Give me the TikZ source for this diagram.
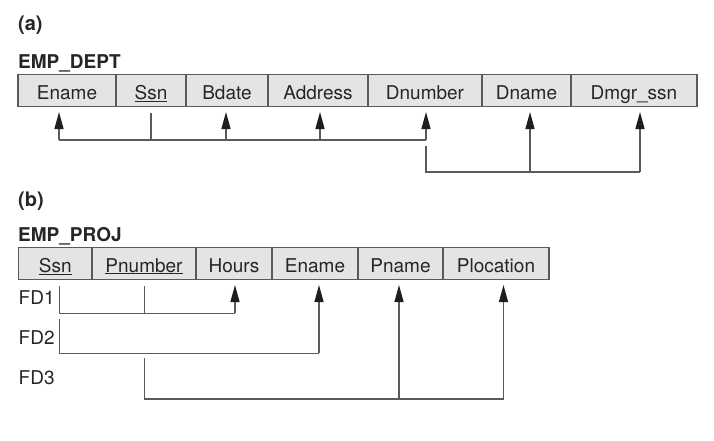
\documentclass[tikz,border=0pt]{standalone}
\usepackage{fontspec}
\setmainfont{TeX Gyre Heros}
\usetikzlibrary{arrows.meta}
\definecolor{cellfill}{HTML}{E4E4E4}
\definecolor{edge}{HTML}{5A5A5A}
\definecolor{ink}{HTML}{262626}
\definecolor{tipcol}{HTML}{1E1E1E}
\begin{document}
\begin{tikzpicture}[x=1pt,y=-1pt,
  cell/.style={draw=edge, fill=cellfill, line width=1.4pt, minimum height=32pt,
    inner sep=0pt, outer sep=0pt, anchor=north west, text=ink,
    text height=17pt, text depth=0pt, font=\fontsize{19}{22}\selectfont},
  lbl/.style={anchor=base west, inner sep=0pt, text=ink, font=\fontsize{19}{22}\selectfont},
  title/.style={anchor=base west, inner sep=0pt, text=ink, font=\fontsize{19}{22}\selectfont\bfseries},
  fd/.style={draw=edge, line width=1.3pt},
  fdarrow/.style={draw=edge, line width=1.3pt, -{Triangle[length=17pt,width=9pt,color=tipcol]}}]

\useasboundingbox[fill=white] (0,0) rectangle (714,440);

% ---------- (a) ----------
\node[title, font=\fontsize{20}{22}\selectfont\bfseries] (la) at (18,30.5) {(a)};
\node[title] (ted) at (18,68) {EMP\_DEPT};

\node[cell, minimum width=98pt]  (ea)  at (18,74.5)  {Ename};
\node[cell, minimum width=70pt]  (sa)  at (116,74.5) {\underline{Ssn}};
\node[cell, minimum width=82pt]  (ba)  at (186,74.5) {Bdate};
\node[cell, minimum width=100pt] (aa)  at (268,74.5) {Address};
\node[cell, minimum width=114pt] (dna) at (368,74.5) {Dnumber};
\node[cell, minimum width=89pt]  (dma) at (482,74.5) {Dname};
\node[cell, minimum width=126pt] (dga) at (571,74.5) {Dmgr\_ssn};

\coordinate (ja1) at (59,140);
\coordinate (ja2) at (151,140);
\coordinate (ja3) at (226,140);
\coordinate (ja4) at (320,140);
\coordinate (ja5) at (426,140);
\draw[fd] (ja1) -- (ja5);
\draw[fd, shorten >=6pt] (ja2) -- (ja2 |- sa.south);
\draw[fdarrow, shorten >=5.5pt] (ja1) -- (ja1 |- ea.south);
\draw[fdarrow, shorten >=5.5pt] (ja3) -- (ja3 |- ba.south);
\draw[fdarrow, shorten >=5.5pt] (ja4) -- (ja4 |- aa.south);
\draw[fdarrow, shorten >=5.5pt] (ja5) -- (ja5 |- dna.south);

\coordinate (jb1) at (426,146);
\coordinate (jb2) at (426,172);
\coordinate (jb3) at (530,172);
\coordinate (jb4) at (640,172);
\draw[fd] (jb1) -- (jb2) -- (jb4);
\draw[fdarrow, shorten >=5.5pt] (jb3) -- (jb3 |- dma.south);
\draw[fdarrow, shorten >=5.5pt] (jb4) -- (jb4 |- dga.south);

% ---------- (b) ----------
\node[title, font=\fontsize{20}{22}\selectfont\bfseries] (lb) at (18,206) {(b)};
\node[title] (tep) at (18,241) {EMP\_PROJ};

\node[cell, minimum width=73.5pt] (ssb) at (18.5,247.5) {\underline{Ssn}};
\node[cell, minimum width=104pt]  (pnb) at (92,247.5)   {\underline{Pnumber}};
\node[cell, minimum width=76pt]   (hb)  at (196,247.5)  {Hours};
\node[cell, minimum width=86pt]   (eb)  at (272,247.5)  {Ename};
\node[cell, minimum width=85pt]   (pb)  at (358,247.5)  {Pname};
\node[cell, minimum width=106pt]  (plb) at (443,247.5)  {Plocation};

\node[lbl] (fd1) at (18.5,304) {FD1};
\node[lbl] (fd2) at (18.5,344) {FD2};
\node[lbl] (fd3) at (18.5,384.7) {FD3};

% FD1
\coordinate (f1a) at (59.6,313.3);
\coordinate (f1b) at (144.6,313.3);
\coordinate (f1c) at (235,313.3);
\draw[fd, shorten <=6.5pt] (f1a |- ssb.south) -- (f1a) -- (f1c);
\draw[fd, shorten <=6.5pt] (f1b |- pnb.south) -- (f1b);
\draw[fdarrow, shorten >=5.5pt] (f1c) -- (f1c |- hb.south);

% FD2
\coordinate (f2a) at (59.6,319.3);
\coordinate (f2b) at (59.6,353.3);
\coordinate (f2c) at (319,353.3);
\draw[fd] (f2a) -- (f2b) -- (f2c);
\draw[fdarrow, shorten >=5.5pt] (f2c) -- (f2c |- eb.south);

% FD3
\coordinate (f3a) at (144.6,358.3);
\coordinate (f3b) at (144.6,399);
\coordinate (f3c) at (399,399);
\coordinate (f3d) at (503.5,399);
\draw[fd] (f3a) -- (f3b) -- (f3d);
\draw[fdarrow, shorten >=5.5pt] (f3c) -- (f3c |- pb.south);
\draw[fdarrow, shorten >=5.5pt] (f3d) -- (f3d |- plb.south);
\end{tikzpicture}
\end{document}
